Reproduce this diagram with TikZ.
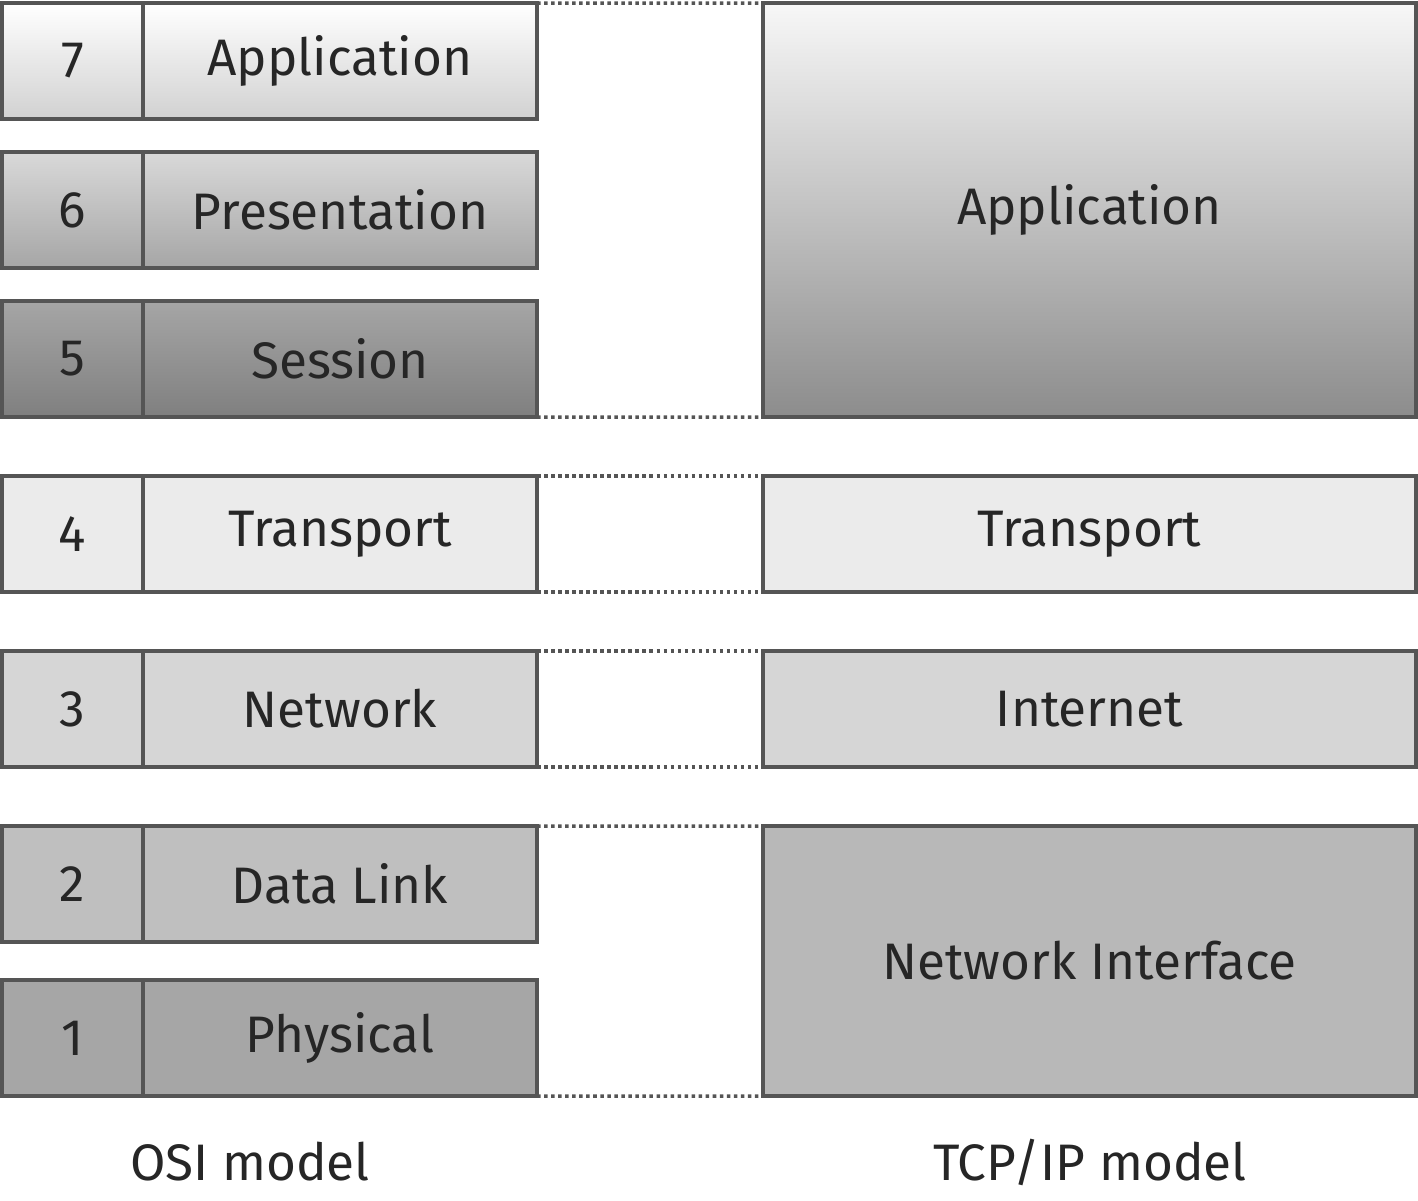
\documentclass[tikz,border=0pt]{standalone}
\usepackage{fontspec}
\setmainfont{Fira Sans}
\usetikzlibrary{positioning}
\definecolor{edge}{HTML}{555555}
\tikzset{%
  % layer boxes
    layerBox/.style = {rectangle, draw=edge, line width=1pt, inner sep=0, outer sep=0,
                       font=\fontsize{14.6}{17}\selectfont, text=black!85},
    numBox/.style = {layerBox, minimum width=1.41cm, minimum height=1.16cm},
    nameBox/.style = {layerBox, minimum width=3.94cm, minimum height=1.16cm},
    tcpBox/.style = {layerBox, minimum width=6.53cm},
    dotLink/.style = {densely dotted, edge, line width=1pt},
    modelLabel/.style = {font=\fontsize{14.6}{17}\selectfont, text=black!85},
}
\begin{document}
\begin{tikzpicture}
	\useasboundingbox (0,0) rectangle (14.18,-12);
	% OSI model
	\node [numBox, top color=white, bottom color=black!18] (num7) at (0.725,-0.61) {7};
	\node [nameBox, top color=white, bottom color=black!18, right=0 of num7] (lab7) {Application};
	\node [numBox, top color=black!15, bottom color=black!35] (num6) at (0.725,-2.10) {6};
	\node [nameBox, top color=black!15, bottom color=black!35, right=0 of num6] (lab6) {Presentation};
	\node [numBox, top color=black!35, bottom color=black!50] (num5) at (0.725,-3.59) {5};
	\node [nameBox, top color=black!35, bottom color=black!50, right=0 of num5] (lab5) {Session};
	\node [numBox, fill=black!8] (num4) at (0.725,-5.34) {4};
	\node [nameBox, fill=black!8, right=0 of num4] (lab4) {Transport};
	\node [numBox, fill=black!16] (num3) at (0.725,-7.09) {3};
	\node [nameBox, fill=black!16, right=0 of num3] (lab3) {Network};
	\node [numBox, fill=black!25] (num2) at (0.725,-8.84) {2};
	\node [nameBox, fill=black!25, right=0 of num2] (lab2) {Data Link};
	\node [numBox, fill=black!35] (num1) at (0.725,-10.38) {1};
	\node [nameBox, fill=black!35, right=0 of num1] (lab1) {Physical};
	\node [modelLabel] (osi) at (2.5,-11.62) {OSI model};

	% TCP/IP model
	\node [tcpBox, minimum height=4.14cm, top color=black!3, bottom color=black!45] (app) at (10.895,-2.10) {Application};
	\node [tcpBox, minimum height=1.16cm, fill=black!8] (trans) at (10.895,-5.34) {Transport};
	\node [tcpBox, minimum height=1.16cm, fill=black!16] (inet) at (10.895,-7.09) {Internet};
	\node [tcpBox, minimum height=2.70cm, fill=black!28] (netif) at (10.895,-9.61) {Network Interface};
	\node [modelLabel] (tcp) at (10.9,-11.62) {TCP/IP model};

	\draw [dotLink] (lab7.north east) -- (app.north west);
	\draw [dotLink] (lab5.south east) -- (app.south west);
	\draw [dotLink] (lab4.north east) -- (trans.north west);
	\draw [dotLink] (lab4.south east) -- (trans.south west);
	\draw [dotLink] (lab3.north east) -- (inet.north west);
	\draw [dotLink] (lab3.south east) -- (inet.south west);
	\draw [dotLink] (lab2.north east) -- (netif.north west);
	\draw [dotLink] (lab1.south east) -- (netif.south west);
\end{tikzpicture}
\end{document}
